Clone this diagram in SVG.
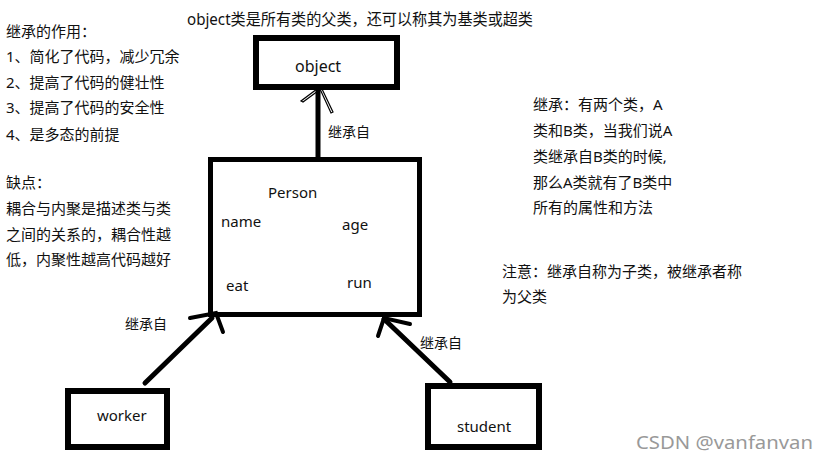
<svg xmlns="http://www.w3.org/2000/svg" width="819" height="460" viewBox="0 0 819 460">
<style>
text{font-family:"Noto Sans","Noto Sans CJK SC",sans-serif;fill:#111}
.t15{font-size:15px}
.t14{font-size:14px}
.t16{font-size:16px}
.box{fill:none;stroke:#000;stroke-width:6}
.pbox{fill:none;stroke:#000;stroke-width:5}
.con{fill:none;stroke:#000;stroke-width:5;stroke-linecap:round}
.thin{fill:none;stroke:#000;stroke-width:1.2}
</style>
<rect width="819" height="460" fill="#fff"/>
<text class="t16" x="187" y="25" textLength="346" lengthAdjust="spacingAndGlyphs">object类是所有类的父类，还可以称其为基类或超类</text>
<g id="notes-left" class="t15">
<text x="6" y="37">继承的作用：</text>
<text x="6" y="62">1、简化了代码，减少冗余</text>
<text x="6" y="88">2、提高了代码的健壮性</text>
<text x="6" y="113">3、提高了代码的安全性</text>
<text x="6" y="140">4、是多态的前提</text>
<text x="6" y="188">缺点：</text>
<text x="6" y="214">耦合与内聚是描述类与类</text>
<text x="6" y="240">之间的关系的，耦合性越</text>
<text x="6" y="265">低，内聚性越高代码越好</text>
</g>
<g id="notes-right" class="t15">
<text x="533" y="110">继承：有两个类，A</text>
<text x="533" y="136">类和B类，当我们说A</text>
<text x="533" y="162">类继承自B类的时候,</text>
<text x="533" y="188">那么A类就有了B类中</text>
<text x="533" y="213">所有的属性和方法</text>
<text x="502" y="277">注意：继承自称为子类，被继承者称</text>
<text x="502" y="302">为父类</text>
</g>
<g id="connectors">
<line class="con" x1="318" y1="90" x2="318" y2="157" style="stroke-linecap:butt"/>
<path class="thin" d="M317 89 L301 101 L303 102 L318 91 M320 89 L331 113 L333 112 L322 89"/>
<line class="con" x1="145" y1="383" x2="212" y2="318"/>
<path class="con" d="M190 318 L216 313 L223 332" style="stroke-width:4"/>
<line class="con" x1="450" y1="382" x2="384" y2="319"/>
<path class="con" d="M410 324 L384 318 L378 336" style="stroke-width:4"/>
<text class="t14" x="328" y="137">继承自</text>
<text class="t14" x="125" y="329">继承自</text>
<text class="t14" x="420" y="348">继承自</text>
</g>
<g id="object">
<rect class="box" x="256" y="38" width="141" height="49"/>
<text class="t16" x="295" y="72">object</text>
</g>
<g id="person">
<rect class="pbox" x="210.5" y="159.5" width="209" height="155"/>
<text class="t15" x="268" y="198">Person</text>
<text class="t15" x="221" y="227">name</text>
<text class="t15" x="342" y="230">age</text>
<text class="t15" x="226" y="291">eat</text>
<text class="t15" x="347" y="288">run</text>
</g>
<g id="worker">
<rect class="box" x="68" y="391" width="99" height="56"/>
<text class="t15" x="97" y="421">worker</text>
</g>
<g id="student">
<rect class="box" x="428" y="386" width="111" height="61"/>
<text class="t15" x="457" y="432">student</text>
</g>
<text x="636" y="449" textLength="177" lengthAdjust="spacingAndGlyphs" style="font-size:18px;fill:#999">CSDN @vanfanvan</text>
</svg>
